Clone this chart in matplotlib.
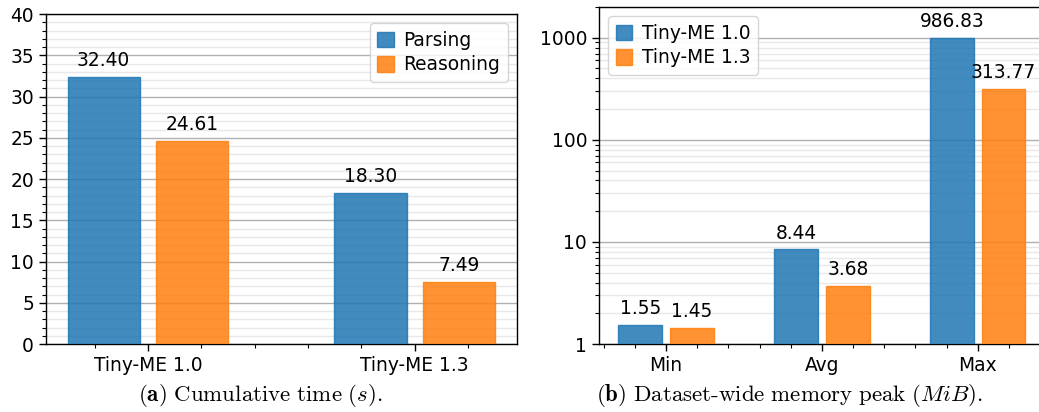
import matplotlib
matplotlib.use("Agg")
import matplotlib.pyplot as plt
import numpy as np
from matplotlib.ticker import AutoMinorLocator, MultipleLocator, FixedLocator, NullFormatter

FS = 13.4
plt.rcParams["mathtext.fontset"] = "cm"
plt.rcParams["font.size"] = FS

# Cumulative time (s)
time_groups = ["Tiny-ME 1.0", "Tiny-ME 1.3"]
time_series = ["Parsing", "Reasoning"]
parsing_time = [32.40, 18.30]
reasoning_time = [24.61, 7.49]

# Memory peak (MiB)
mem_groups = ["Min", "Avg", "Max"]
mem_series = ["Tiny-ME 1.0", "Tiny-ME 1.3"]
mem_v10 = [1.55, 8.44, 986.83]
mem_v13 = [1.45, 3.68, 313.77]

BLUE = "#1f77b4"
ORANGE = "#ff7f0e"
OFFSET = 0.166


def grouped_bars(ax, labels, a, b, names, width, fmt="%.2f"):
    x = np.arange(len(labels))
    r1 = ax.bar(x - OFFSET, a, width, color=BLUE, alpha=0.85, edgecolor=BLUE,
                linewidth=1.0, label=names[0], zorder=3)
    r2 = ax.bar(x + OFFSET, b, width, color=ORANGE, alpha=0.85, edgecolor=ORANGE,
                linewidth=1.0, label=names[1], zorder=3)
    ax.bar_label(r1, fmt=fmt, padding=5, fontsize=FS, zorder=4)
    ax.bar_label(r2, fmt=fmt, padding=5, fontsize=FS, zorder=4)
    ax.set_xticks(x)
    ax.set_xticklabels(labels)
    ax.xaxis.set_minor_locator(AutoMinorLocator(5))
    ax.grid(axis="y", which="major", color="#b0b0b0", linewidth=1.0, zorder=0)
    ax.grid(axis="y", which="minor", color="#e8e8e8", linewidth=1.0, zorder=0)
    ax.set_axisbelow(True)
    ax.tick_params(which="major", length=5, width=1.0, labelsize=FS)
    ax.tick_params(which="minor", length=3, width=0.8)
    for s in ax.spines.values():
        s.set_color("black")
        s.set_linewidth(1.0)


legend_kw = dict(fontsize=FS, handlelength=0.9, handleheight=0.9,
                 handletextpad=0.5, borderpad=0.4, labelspacing=0.3,
                 framealpha=0.8, edgecolor="#cccccc")

fig = plt.figure(figsize=(10.39, 4.12), dpi=100)
ax1 = fig.add_axes([0.044, 0.165, 0.4536, 0.801])
ax2 = fig.add_axes([0.5765, 0.165, 0.432, 0.818])

grouped_bars(ax1, time_groups, parsing_time, reasoning_time, time_series, 0.27)
ax1.set_xlim(-0.383, 1.383)
ax1.set_ylim(0, 40)
ax1.yaxis.set_major_locator(MultipleLocator(5))
ax1.yaxis.set_minor_locator(MultipleLocator(1))
ax1.legend(loc="upper right", **legend_kw)

grouped_bars(ax2, mem_groups, mem_v10, mem_v13, mem_series, 0.28)
ax2.set_yscale("log")
ax2.set_xlim(-0.43, 2.45)
ax2.set_ylim(1, 2000)
ax2.yaxis.set_major_locator(FixedLocator([1, 10, 100, 1000]))
ax2.set_yticklabels(["1", "10", "100", "1000"])
ax2.yaxis.set_minor_formatter(NullFormatter())
ax2.legend(loc="upper left", **legend_kw)

fig.text(0.251, 0.026, r"$\mathbf{(a)}\ \mathrm{Cumulative\ time}\ (s).$",
         ha="center", va="baseline", fontsize=16.5)
fig.text(0.76, 0.026, r"$\mathbf{(b)}\ \mathrm{Dataset\text{-}wide\ memory\ peak}\ (MiB).$",
         ha="center", va="baseline", fontsize=16.5)

fig.savefig("out.png", dpi=100)
